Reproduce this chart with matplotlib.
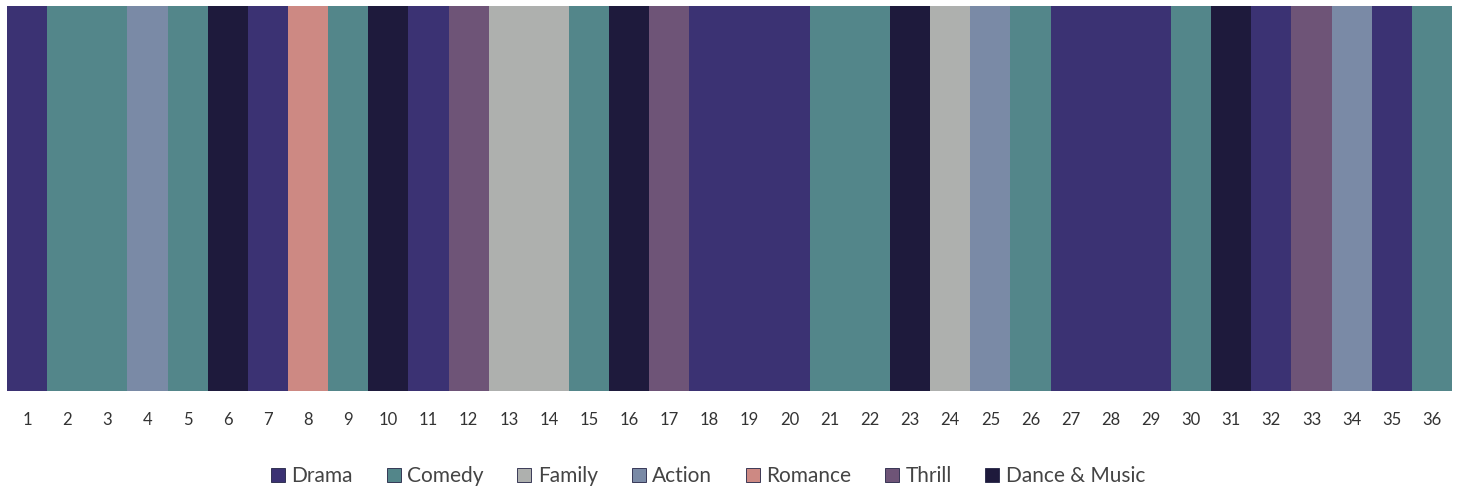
import matplotlib
matplotlib.use("Agg")
import matplotlib.pyplot as plt
from matplotlib.lines import Line2D

# one genre per episode
episodes = list(range(1, 37))
genres = [
    "Drama", "Comedy", "Comedy", "Action", "Comedy", "Dance & Music", "Drama", "Romance",
    "Comedy", "Dance & Music", "Drama", "Thrill", "Family", "Family", "Comedy", "Dance & Music",
    "Thrill", "Drama", "Drama", "Drama", "Comedy", "Comedy", "Dance & Music", "Family",
    "Action", "Comedy", "Drama", "Drama", "Drama", "Comedy", "Dance & Music", "Drama",
    "Thrill", "Action", "Drama", "Comedy",
]
legend_order = ["Drama", "Comedy", "Family", "Action", "Romance", "Thrill", "Dance & Music"]
genre_colors = {
    "Drama": "#3b3273",
    "Comedy": "#53868a",
    "Family": "#aeb0ae",
    "Action": "#7a8aa6",
    "Romance": "#cd8983",
    "Thrill": "#6e5477",
    "Dance & Music": "#1e1a3c",
}

plt.rcParams['font.family'] = ['Lato', 'DejaVu Sans']

fig = plt.figure(figsize=(14.63, 4.88), dpi=100)
ax = fig.add_axes([7 / 1463, 97 / 488, 1445 / 1463, 385 / 488])

colors = [genre_colors[g] for g in genres]
ax.bar(episodes, [1] * len(episodes), width=1.0, color=colors, linewidth=0)

ax.set_xlim(0.5, 36.5)
ax.set_ylim(0, 1)
ax.set_yticks([])
ax.set_xticks(episodes)
ax.set_xticklabels([str(e) for e in episodes], fontsize=12, color="#333333")
ax.tick_params(axis="x", length=0, pad=15)
for s in ax.spines.values():
    s.set_visible(False)

handles = [
    Line2D([], [], marker="s", linestyle="none", markersize=10,
           markerfacecolor=genre_colors[g], markeredgecolor="#222244", markeredgewidth=0.6)
    for g in legend_order
]
fig.legend(handles, legend_order, loc="center", bbox_to_anchor=(708 / 1463, 1 - 476 / 488),
           ncol=len(legend_order), frameon=False, fontsize=15, handlelength=0.7,
           handletextpad=0.3, columnspacing=1.6, labelcolor="#444444")

fig.savefig("out.png", dpi=100)
